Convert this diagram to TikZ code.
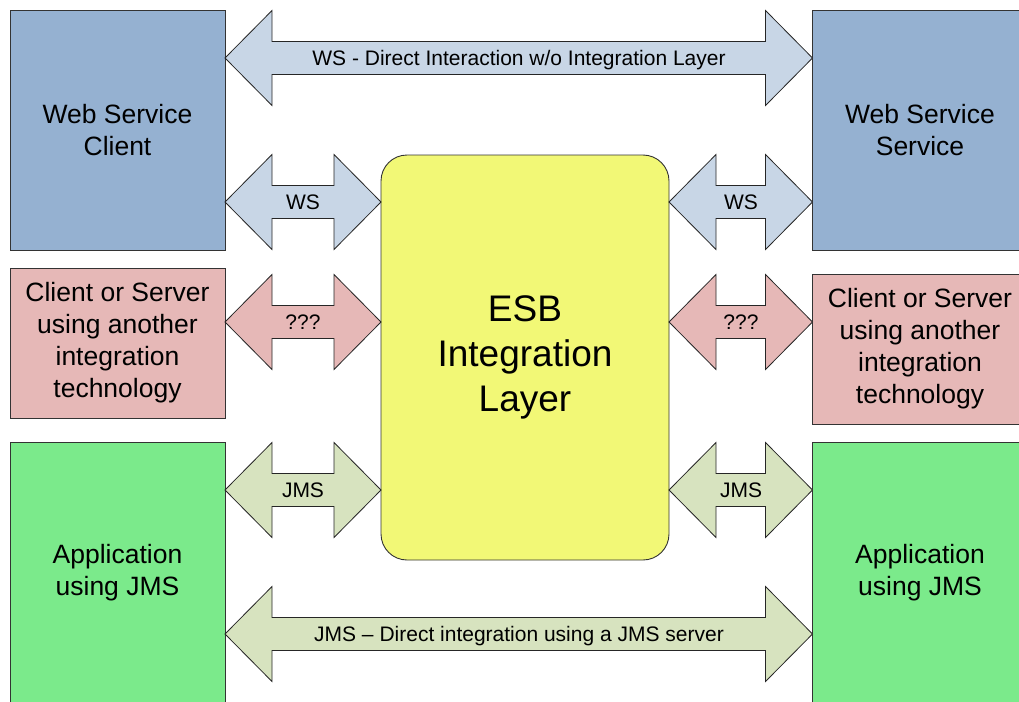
\documentclass[tikz,border=0pt]{standalone}
\usepackage{fontspec}
\setmainfont{Liberation Sans}
\usetikzlibrary{calc}
\definecolor{wsbox}{HTML}{95B1D1}
\definecolor{wsarrow}{HTML}{C8D6E6}
\definecolor{otherbox}{HTML}{E6B8B7}
\definecolor{jmsbox}{HTML}{7BEA8B}
\definecolor{jmsarrow}{HTML}{D7E3BF}
\definecolor{esbbox}{HTML}{F2F876}
\tikzset{
  sysbox/.style={draw=black!80, line width=0.9pt, minimum width=215pt, inner sep=0pt, outer sep=0pt,
    align=center, font=\fontsize{26.5}{32}\selectfont},
  blockarrow/.style={draw=black!85, line width=0.8pt, fill=#1, to path={let \p1=(\tikztostart), \p2=(\tikztotarget) in
    (\x1,\y1) -- (\x1+47pt,\y1+47.5pt) -- (\x1+47pt,\y1+16.5pt) -- (\x2-47pt,\y1+16.5pt) -- (\x2-47pt,\y1+47.5pt) -- (\x2,\y1)
    -- (\x2-47pt,\y1-47.5pt) -- (\x2-47pt,\y1-16.5pt) -- (\x1+47pt,\y1-16.5pt) -- (\x1+47pt,\y1-47.5pt) -- cycle}},
  arrowlabel/.style={font=\fontsize{21}{25}\selectfont, text height=15pt, text depth=0pt, inner sep=0pt}
}
\begin{document}
\begin{tikzpicture}[x=1pt,y=-1pt]
    \useasboundingbox (0,0) rectangle (1019,701);
    \node[sysbox, fill=wsbox, minimum height=240pt] (wsc) at (117.5,130) {Web Service\\Client};
    \node[sysbox, fill=wsbox, minimum height=240pt] (wss) at (920,130) {Web Service\\Service};
    \node[sysbox, fill=otherbox, minimum height=150pt] (ocl) at (117.5,343) {Client or Server\\using another\\integration\\technology};
    \node[sysbox, fill=otherbox, minimum height=150pt] (ocr) at (920,349) {Client or Server\\using another\\integration\\technology};
    \node[sysbox, fill=jmsbox, minimum height=262pt] (jcl) at (117.5,573) {Application\\using JMS};
    \node[sysbox, fill=jmsbox, minimum height=262pt] (jcr) at (920,573) {Application\\using JMS};
    \node[draw=black!80, line width=0.9pt, fill=esbbox, rounded corners=26pt, minimum width=288pt, minimum height=405pt,
      inner sep=0pt, outer sep=0pt, align=center, font=\fontsize{37}{45}\selectfont] (esb) at (525,357.5) {ESB\\Integration\\Layer};
    \draw[blockarrow=wsarrow] (wsc.east |- 0,58) to (wss.west |- 0,58);
    \node[arrowlabel] (wslabel) at (519,58) {WS - Direct Interaction w/o Integration Layer};
    \foreach \row/\lft/\rgt/\col/\txt in {202/wsc/wss/wsarrow/WS, 322/ocl/ocr/otherbox/???, 490/jcl/jcr/jmsarrow/JMS} {
      \draw[blockarrow=\col] (\lft.east |- 0,\row) to (esb.west |- 0,\row);
      \draw[blockarrow=\col] (esb.east |- 0,\row) to (\rgt.west |- 0,\row);
      \node[arrowlabel] (\lft label) at (303,\row) {\txt};
      \node[arrowlabel] (\rgt label) at (741,\row) {\txt};
    }
    \draw[blockarrow=jmsarrow] (jcl.east |- 0,634) to (jcr.west |- 0,634);
    \node[arrowlabel] (jmslabel) at (519,634) {JMS – Direct integration using a JMS server};
\end{tikzpicture}
\end{document}
